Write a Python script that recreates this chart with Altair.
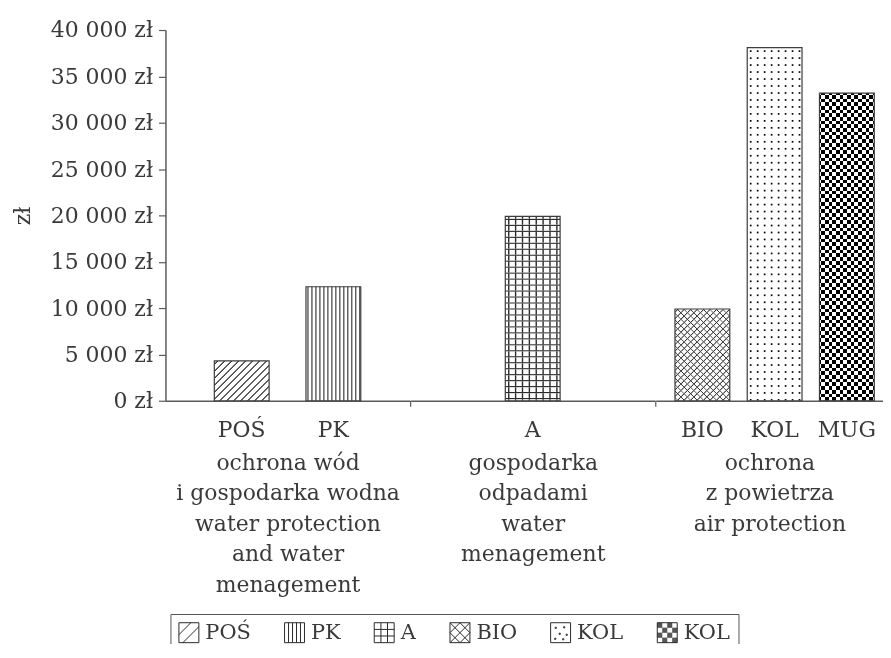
import altair as alt
import pandas as pd

# ---------------- data ----------------
categories = ["POŚ", "PK", "A", "BIO", "KOL", "MUG"]
groups = ["water", "water", "waste", "air", "air", "air"]
values = [4300, 12300, 19900, 9900, 38100, 33200]
legend_labels = ["POŚ", "PK", "A", "BIO", "KOL", "KOL"]
group_order = ["water", "waste", "air"]
group_titles = [
    ["ochrona wód", "i gospodarka wodna", "water protection", "and water", "menagement"],
    ["gospodarka", "odpadami", "water", "menagement"],
    ["ochrona", "z powietrza", "air protection"],
]
y_ticks = [0, 5000, 10000, 15000, 20000, 25000, 30000, 35000, 40000]

df = pd.DataFrame({"cat": categories, "group": groups, "value": values})

# ---------------- style ----------------
FONT = "DejaVu Serif"
TXT = "#3a3a3a"
AX = "#5a5a5a"
INK = "#2a2a2a"
CLEAR = "rgba(255,255,255,0)"
PLOT_H = 372
YMAX = 40000
BAR_W = 55
PANEL_W = [245, 245, 228]
PAD_OUTER = [0.332, 0.5, 0.0724]
ALIGN = [0.5, 0.5, 1.0]
FS = 22


def stripes(length, period, line, ink, bg, ramp=1.0):
    """Repeating stripe pattern expressed as gradient stops (pixel units -> [0,1])."""
    ramp = min(ramp, line)
    raw = [(0.0, bg)]
    j = 0
    while j * period < length:
        c = j * period + period / 2.0
        lo, hi = c - line / 2.0, c + line / 2.0
        raw += [(lo - ramp / 2.0, bg), (lo + ramp / 2.0, ink),
                (hi - ramp / 2.0, ink), (hi + ramp / 2.0, bg)]
        j += 1
    stops = []
    last = 0.0
    for px, col in raw:
        o = min(max(px / length, 0.0), 1.0)
        o = max(o, last)
        last = o
        stops.append({"offset": round(o, 5), "color": col})
    return stops


def grad(x1, y1, x2, y2, stops):
    return {"gradient": "linear", "x1": x1, "y1": y1, "x2": x2, "y2": y2, "stops": stops}


def vertical(w, h, *a, **k):
    return grad(0, 0, 1, 0, stripes(w, *a, **k))


def horizontal(w, h, *a, **k):
    return grad(0, 0, 0, 1, stripes(h, *a, **k))


def diag_up(w, h, *a, **k):
    r = h / w
    kk = (1 + r) / (1 + r * r)
    return grad(0, 0, kk, kk * r, stripes(w + h, *a, **k))


def diag_down(w, h, *a, **k):
    r = h / w
    kk = (1 + r) / (1 + r * r)
    return grad(0, 1, kk, 1 - kk * r, stripes(w + h, *a, **k))


def pattern_layers(cat, w, h):
    if cat == "POŚ":
        return [dict(fill=diag_up(w, h, 7, 1.5, INK, "white"))]
    if cat == "PK":
        return [dict(fill=vertical(w, h, 4, 1.1, INK, "white"))]
    if cat == "A":
        return [dict(fill=vertical(w, h, 6.9, 1.4, INK, "white")),
                dict(fill=horizontal(w, h, 6, 1.4, INK, CLEAR))]
    if cat == "BIO":
        return [dict(fill=diag_up(w, h, 6.5, 1.3, "#3a3a3a", "white")),
                dict(fill=diag_down(w, h, 6.5, 1.3, "#3a3a3a", CLEAR))]
    if cat == "KOL":
        return [dict(fill=vertical(w, h, 7, 1.7, "black", "white")),
                dict(fill=horizontal(w, h, 7, 1.7, CLEAR, "white"))]
    return [dict(fill=vertical(w, h, 7.4, 3.7, "black", "white", ramp=0)),
            dict(fill=horizontal(w, h, 7.4, 3.7, "white", CLEAR, ramp=0), blend="difference")]


# legend swatch paths on a [-1, 1] square
BOX = "M-1,-1H1V1H-1Z"


def checker_path():
    parts = []
    for i in range(4):
        for j in range(4):
            if (i + j) % 2 == 0:
                x0 = -1 + i * 0.5
                y0 = -1 + j * 0.5
                for t in range(5):
                    yy = y0 + 0.05 + t * 0.1
                    parts.append(f"M{x0:.2f},{yy:.2f}h0.5")
    return " ".join(parts)


def dots_path():
    pts = [(-0.55, -0.55), (0.3, -0.6), (-0.15, 0.05), (0.55, 0.15), (-0.6, 0.55), (0.2, 0.6)]
    return " ".join(f"M{x:.2f},{y:.2f}h0.12v0.12h-0.12Z" for x, y in pts)


paths = [
    BOX + " M-1,0.2L0.2,-1 M-0.6,1L1,-0.6",
    BOX + " M-0.6,-1V1 M-0.2,-1V1 M0.2,-1V1 M0.6,-1V1",
    BOX + " M-0.33,-1V1 M0.33,-1V1 M-1,-0.33H1 M-1,0.33H1",
    BOX + " M-1,-1L1,1 M-1,1L1,-1 M-1,0L0,-1L1,0L0,1Z",
    BOX + " " + dots_path(),
    BOX + " " + checker_path(),
]


def panel(i):
    g = group_order[i]
    cats = [c for c, gg in zip(categories, groups) if gg == g]
    xenc = alt.X(
        "cat:N",
        sort=cats,
        scale=alt.Scale(domain=cats, paddingInner=0, paddingOuter=PAD_OUTER[i], align=ALIGN[i]),
        axis=alt.Axis(
            title=group_titles[i], labelAngle=0, ticks=False, tickSize=0,
            domainColor=AX, domainWidth=1.5,
            labelFont=FONT, labelFontSize=FS, labelColor=TXT, labelPadding=19,
            titleFont=FONT, titleFontSize=FS, titleFontWeight="normal", titleColor=TXT,
            titleLineHeight=30.5, titlePadding=12,
        ),
    )
    if i == 0:
        yaxis = alt.Axis(
            values=y_ticks, grid=False, title="zł",
            labelExpr="replace(format(datum.value, ','), ',', ' ') + ' zł'",
            tickSize=7, tickColor=AX, tickWidth=1.2, domainColor=AX, domainWidth=1.5,
            labelFont=FONT, labelFontSize=FS, labelColor=TXT, labelPadding=6,
            titleFont=FONT, titleFontSize=FS, titleFontWeight="normal", titleColor=TXT,
            titlePadding=13, minExtent=118, maxExtent=118,
        )
    else:
        yaxis = None
    yenc = alt.Y("value:Q", scale=alt.Scale(domain=[0, YMAX], nice=False), axis=yaxis)

    layers = []
    for c in cats:
        v = values[categories.index(c)]
        h = v / YMAX * PLOT_H
        for spec in pattern_layers(c, BAR_W, h):
            layers.append(
                alt.Chart(df)
                .transform_filter(alt.datum.cat == c)
                .mark_bar(width=BAR_W, strokeWidth=0, **spec)
                .encode(x=xenc, y=yenc)
            )
    layers.append(
        alt.Chart(df)
        .transform_filter(alt.FieldOneOfPredicate(field="group", oneOf=[g]))
        .mark_bar(width=BAR_W, fill="transparent", stroke="#3c3c3c", strokeWidth=1.2)
        .encode(x=xenc, y=yenc)
    )
    if i > 0:
        layers.append(
            alt.Chart(pd.DataFrame({"t": [0]}))
            .mark_rule(color=AX, strokeWidth=1.2)
            .encode(x=alt.value(0), y=alt.value(PLOT_H), y2=alt.value(PLOT_H + 6))
        )
    if i == 0:
        layers.insert(
            0,
            alt.Chart(df)
            .transform_filter(alt.FieldOneOfPredicate(field="group", oneOf=[g]))
            .mark_point(opacity=0, filled=False, color=INK, strokeWidth=1)
            .encode(
                x=xenc,
                y=yenc,
                shape=alt.Shape(
                    "cat:N",
                    scale=alt.Scale(domain=categories, range=paths),
                    legend=alt.Legend(
                        orient="none", legendX=5, legendY=586,
                        direction="horizontal", columns=6, title=None,
                        labelFont=FONT, labelFontSize=21, labelColor=TXT,
                        symbolSize=400, symbolStrokeWidth=1, symbolStrokeColor=INK,
                        symbolFillColor="transparent", symbolOpacity=1,
                        labelOffset=6, columnPadding=31, padding=8,
                        strokeColor="#555555", fillColor="white",
                        labelExpr="datum.label == 'MUG' ? 'KOL' : datum.label",
                    ),
                ),
            ),
        )
    return alt.layer(*layers).properties(width=PANEL_W[i], height=PLOT_H)


chart = (
    alt.hconcat(panel(0), panel(1), panel(2), spacing=0)
    .resolve_legend(shape="shared")
    .configure_view(stroke=None)
    .properties(padding={"left": 4, "top": 10, "right": 0, "bottom": -11}, background="white")
)

chart.save("out.html", embed_options={"renderer": "svg", "actions": False})
